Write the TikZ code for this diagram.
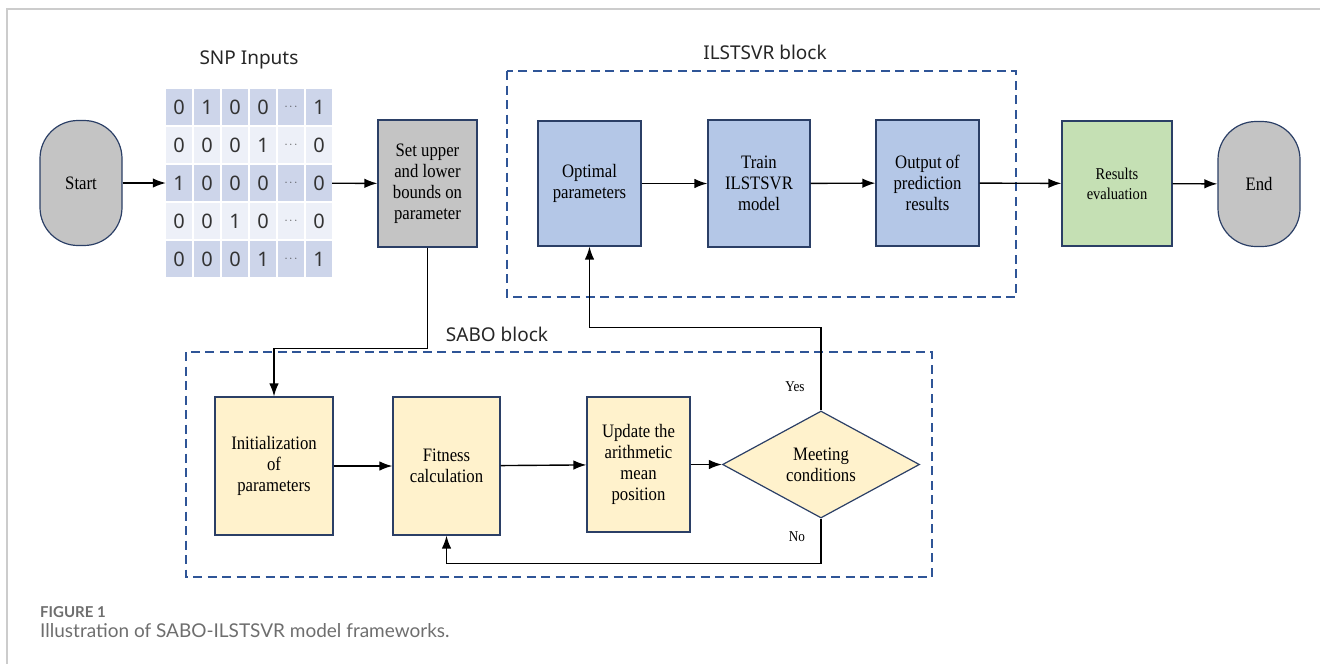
\documentclass[tikz,border=0pt]{standalone}
\usepackage{fontspec}
\setmainfont{Liberation Serif}[FakeStretch=0.88]
\newfontfamily\labelfont{Noto Sans}
\newfontfamily\capfont{Lato}
\usetikzlibrary{matrix,arrows.meta,shapes.geometric}
\definecolor{navy}{HTML}{2B3F66}
\definecolor{dashblue}{HTML}{2F5597}
\definecolor{boxblue}{HTML}{B4C7E7}
\definecolor{boxyellow}{HTML}{FFF2CC}
\definecolor{boxgreen}{HTML}{C5E0B4}
\definecolor{boxgray}{HTML}{C4C4C4}
\definecolor{celldark}{HTML}{CDD5EA}
\definecolor{celllight}{HTML}{EDF0F8}
\definecolor{framegray}{HTML}{CCCCCC}
\definecolor{capgray}{HTML}{6E6E6E}
\newcommand{\snpdots}{{\fontsize{11}{11}\selectfont$\cdots$}}

\begin{document}
\begin{tikzpicture}[x=1pt,y=-1pt,
		>={Latex[length=13pt,width=9.5pt]},
		proc/.style={draw=navy,line width=1.2pt,align=center,inner sep=2pt,
			font=\fontsize{19}{21}\selectfont},
		terminal/.style={proc,fill=boxgray,rounded corners=38pt,
			minimum width=82pt,minimum height=125pt},
		blockframe/.style={draw=dashblue,line width=2.2pt,dash pattern=on 9pt off 5.5pt},
		blocklabel/.style={font=\labelfont\fontsize{19}{22}\selectfont,text=black!85}]
	\useasboundingbox (0,0) rectangle (1320,664);
	\draw[framegray,line width=1.5pt] (1320,9) -- (7,9) -- (7,664);

	% dashed blocks
	\draw[blockframe] (507,71) rectangle (1016,297);
	\draw[blockframe] (186,352) rectangle (932,577);
	\node[blocklabel] (ilslabel) at (765,52) {ILSTSVR block};
	\node[blocklabel] (sabolabel) at (497,334) {SABO block};
	\node[blocklabel] (snplabel) at (249,60) {SNP Inputs};

	% top row
	\node[terminal] (start) at (81,183) {Start};
	\matrix (snp) at (249,183) [matrix of nodes, row sep=2pt, column sep=2pt, inner sep=0pt,
		nodes={anchor=center,minimum width=26pt,minimum height=36pt,inner sep=0pt,
			font=\labelfont\fontsize{20}{20}\selectfont,text=black!80},
		row 1/.style={nodes={fill=celldark}}, row 2/.style={nodes={fill=celllight}},
		row 3/.style={nodes={fill=celldark}}, row 4/.style={nodes={fill=celllight}},
		row 5/.style={nodes={fill=celldark}}]
	{ 0 & 1 & 0 & 0 & \snpdots & 1 \\
	  0 & 0 & 0 & 1 & \snpdots & 0 \\
	  1 & 0 & 0 & 0 & \snpdots & 0 \\
	  0 & 0 & 1 & 0 & \snpdots & 0 \\
	  0 & 0 & 0 & 1 & \snpdots & 1 \\};
	\node[proc,fill=boxgray,minimum width=99pt,minimum height=127pt] (setb) at (427.5,183.5)
		{Set upper\\and lower\\bounds on\\parameter};
	\node[proc,fill=boxblue,minimum width=103pt,minimum height=125pt] (opt) at (589.5,183.5)
		{Optimal\\parameters};
	\node[proc,fill=boxblue,minimum width=102pt,minimum height=127pt] (train) at (759,183.5)
		{Train\\ILSTSVR\\model};
	\node[proc,fill=boxblue,minimum width=103pt,minimum height=126pt] (outp) at (927.5,183)
		{Output of\\prediction\\results};
	\node[proc,fill=boxgreen,minimum width=110pt,minimum height=125pt,
		font=\fontsize{16.5}{20}\selectfont] (eval) at (1117,183.5) {Results\\evaluation};
	\node[terminal] (finish) at (1259,184) {End};

	% SABO row
	\node[proc,fill=boxyellow,minimum width=118pt,minimum height=138pt] (init) at (274,466)
		{Initialization\\of\\parameters};
	\node[proc,fill=boxyellow,minimum width=107pt,minimum height=138pt] (fit) at (446.5,466)
		{Fitness\\calculation};
	\node[proc,fill=boxyellow,minimum width=103pt,minimum height=135pt] (upd) at (638.5,464.5)
		{Update the\\arithmetic\\mean\\position};
	\node[proc,diamond,fill=boxyellow,inner sep=0pt,minimum width=197pt,minimum height=107pt]
		(cond) at (821,464.5) {Meeting\\conditions};
	\node[font=\fontsize{15}{15}\selectfont] (yes) at (795,387) {Yes};
	\node[font=\fontsize{15}{15}\selectfont] (no) at (797,537) {No};

	% connectors
	\path[->,line width=1.4pt]
	(start) edge (snp)
	(snp) edge (setb)
	(opt) edge (train)
	(train) edge (outp)
	(outp) edge (eval)
	(eval) edge (finish)
	(init) edge (fit)
	(fit) edge (upd)
	(upd) edge (cond);
	\draw[->,line width=1.4pt] (setb.south) -- ++(0,101) -| (init.north);
	\draw[->,line width=1.4pt] (cond.north) -- ++(0,-83) -| (opt.south);
	\draw[->,line width=1.4pt] (cond.south) -- ++(0,45) -| (fit.south);

	% caption
	\node[anchor=west,inner sep=0pt,text=capgray,
		font=\capfont\bfseries\fontsize{15}{15}\selectfont] (fig) at (40,612) {FIGURE 1};
	\node[anchor=west,inner sep=0pt,text=capgray,
		font=\capfont\fontsize{19}{19}\selectfont] (caption) at (40,631)
		{Illustration of SABO-ILSTSVR model frameworks.};
\end{tikzpicture}
\end{document}
